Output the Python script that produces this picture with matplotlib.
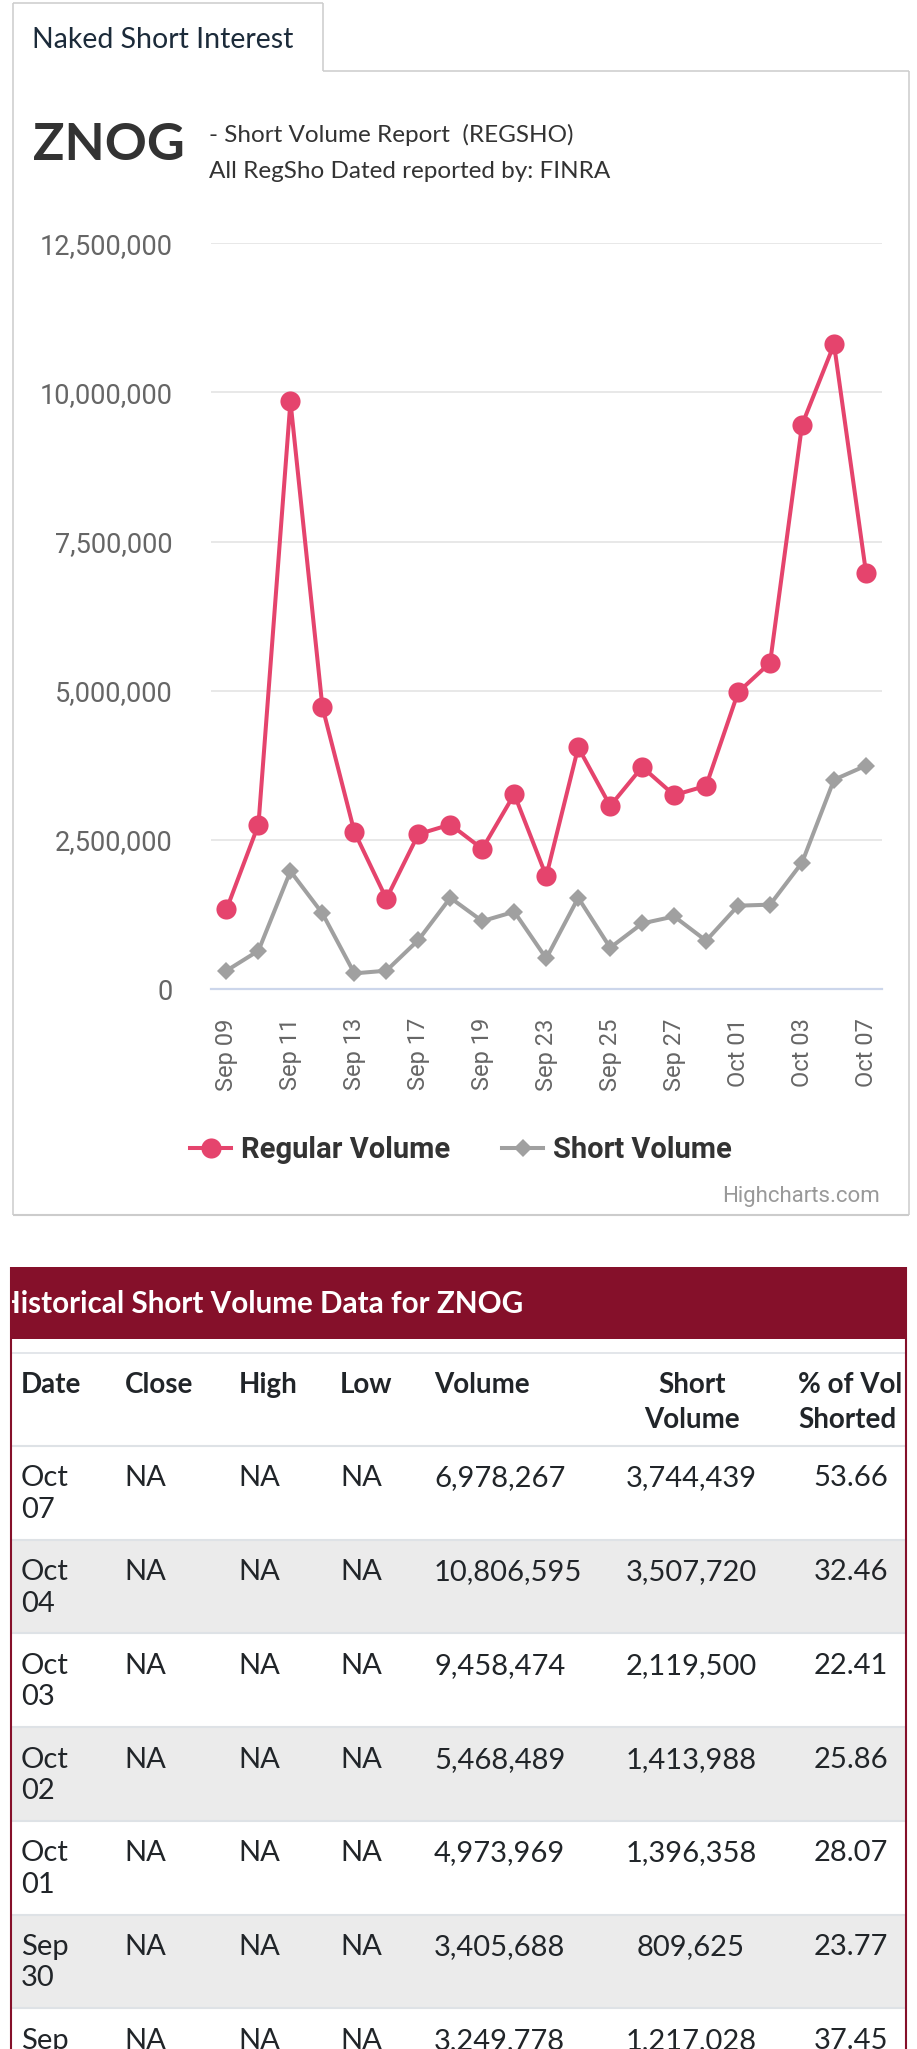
import matplotlib
matplotlib.use('Agg')
import matplotlib.pyplot as plt
from matplotlib.patches import Rectangle
from matplotlib.lines import Line2D
from matplotlib.ticker import FuncFormatter
from matplotlib.transforms import Bbox, TransformedBbox

# размер картинки в пикселях
W, H = 917, 2049

# --- данные графика ---
dates = ['Sep 09', 'Sep 10', 'Sep 11', 'Sep 12', 'Sep 13', 'Sep 16', 'Sep 17',
         'Sep 18', 'Sep 19', 'Sep 20', 'Sep 23', 'Sep 24', 'Sep 25', 'Sep 26',
         'Sep 27', 'Sep 30', 'Oct 01', 'Oct 02', 'Oct 03', 'Oct 04', 'Oct 07']
regular_volume = [1334000, 2757000, 9850000, 4727000, 2634000, 1512000, 2595000,
                  2757000, 2349000, 3265000, 1892000, 4051000, 3069000, 3722000,
                  3249778, 3405688, 4973969, 5468489, 9458474, 10806595, 6978267]
short_volume = [307000, 642000, 1975000, 1267000, 262000, 307000, 820000,
                1529000, 1138000, 1295000, 513000, 1529000, 692000, 1099000,
                1217028, 809625, 1396358, 1413988, 2119500, 3507720, 3744439]
y_ticks = [0, 2500000, 5000000, 7500000, 10000000, 12500000]

# --- данные таблицы ---
tbl_dates = ['Oct 07', 'Oct 04', 'Oct 03', 'Oct 02', 'Oct 01', 'Sep 30', 'Sep 27']
tbl_close = ['NA'] * 7
tbl_high = ['NA'] * 7
tbl_low = ['NA'] * 7
tbl_volume = [6978267, 10806595, 9458474, 5468489, 4973969, 3405688, 3249778]
tbl_short = [3744439, 3507720, 2119500, 1413988, 1396358, 809625, 1217028]
tbl_pct = [53.66, 32.46, 22.41, 25.86, 28.07, 23.77, 37.45]

RED = '#e5446d'
GREY = '#a0a0a0'
BORDER = '#cccccc'
MAROON = '#85102a'


def fx(x):
    return x / W


def fy(y):
    return 1 - y / H


fig = plt.figure(figsize=(W / 100, H / 100), dpi=100)
fig.patch.set_facecolor('white')


def hline(x0, x1, y, color, lw):
    fig.add_artist(Line2D([fx(x0), fx(x1)], [fy(y), fy(y)], transform=fig.transFigure,
                          color=color, lw=lw, solid_capstyle='butt'))


def vline(x, y0, y1, color, lw):
    fig.add_artist(Line2D([fx(x), fx(x)], [fy(y0), fy(y1)], transform=fig.transFigure,
                          color=color, lw=lw, solid_capstyle='butt'))


def txt(x, y, s, **kw):
    return fig.text(fx(x), fy(y), s, **kw)


# --- рамка и вкладка ---
hline(13, 323, 3, BORDER, 1.1)
vline(13, 3, 1215, BORDER, 1.1)
vline(323, 3, 71, BORDER, 1.1)
hline(323, 909, 71, BORDER, 1.1)
vline(909, 71, 1215, BORDER, 1.1)
hline(13, 909, 1215, BORDER, 1.5)

txt(32, 48, 'Naked Short Interest', fontsize=20.5, family='Lato', color='#1c2b3a', va='baseline')
txt(33, 160, 'ZNOG', fontsize=37.5, family='Lato', weight='bold', color='#333333', va='baseline')
txt(209, 142.5, '- Short Volume Report  (REGSHO)', fontsize=17.5, family='Lato', color='#333333', va='baseline')
txt(209, 177.5, 'All RegSho Dated reported by: FINRA', fontsize=17.5, family='Lato', color='#333333', va='baseline')

# --- сам график ---
ax_l, ax_r, ax_t, ax_b = 210.5, 882, 243.3, 989
ax = fig.add_axes([fx(ax_l), fy(ax_b), fx(ax_r - ax_l), (ax_b - ax_t) / H])
x = list(range(len(dates)))
l1, = ax.plot(x, regular_volume, color=RED, lw=2.9, marker='o', markersize=14.5,
              markeredgewidth=0, label='Regular Volume', zorder=3)
l2, = ax.plot(x, short_volume, color=GREY, lw=2.9, marker='D', markersize=9.5,
              markeredgewidth=0, label='Short Volume', zorder=2)
ax.set_xlim(-0.5, len(dates) - 0.5)
ax.set_ylim(0, 12500000)
ax.set_yticks(y_ticks)
ax.yaxis.set_major_formatter(FuncFormatter(lambda v, p: f'{int(v):,}'))
ax.set_xticks(x[::2])
ax.set_xticklabels(dates[::2], rotation=90)
for s in ['left', 'right', 'top']:
    ax.spines[s].set_visible(False)
ax.spines['bottom'].set_color('#ccd6eb')
ax.spines['bottom'].set_linewidth(1.6)
ax.grid(axis='y', color='#e6e6e6', lw=1.3)
ax.set_axisbelow(True)
ax.tick_params(axis='y', length=0, pad=27, labelsize=19.5, labelcolor='#666666')
ax.tick_params(axis='x', length=0, pad=21, labelsize=17, labelcolor='#666666')
for lab in ax.get_yticklabels() + ax.get_xticklabels():
    lab.set_family('Roboto')

leg = ax.legend(handles=[l1, l2], loc='center',
                bbox_to_anchor=((461 - ax_l) / (ax_r - ax_l), (ax_b - 1150) / (ax_b - ax_t)),
                ncol=2, frameon=False, handlelength=1.4, handletextpad=0.34, columnspacing=1.78,
                prop={'family': 'Roboto', 'weight': 'bold', 'size': 21}, borderpad=0)
for t in leg.get_texts():
    t.set_color('#333333')

txt(880, 1202, 'Highcharts.com', fontsize=16, family='Roboto', color='#999999', ha='right', va='baseline')

# --- таблица ---
t_l, t_r = 10.5, 906
fig.add_artist(Rectangle((fx(t_l), fy(1339)), fx(t_r - t_l), (1339 - 1267) / H,
                         transform=fig.transFigure, facecolor=MAROON, edgecolor='none'))
clip = TransformedBbox(Bbox([[fx(t_l + 1), 0], [fx(t_r - 2), 1]]), fig.transFigure)
title = txt(-2, 1313, 'Historical Short Volume Data for ZNOG', fontsize=21.3, family='Lato',
            weight='bold', color='white', va='baseline')
title.set_clip_box(clip)
title.set_clip_on(True)

hline(t_l, t_r, 1353, '#dee2e6', 1.2)

head_kw = dict(fontsize=20, family='Lato', weight='bold', color='#212529', va='baseline')
txt(21, 1393, 'Date', **head_kw)
txt(124.5, 1393, 'Close', **head_kw)
txt(238.5, 1393, 'High', **head_kw)
txt(340, 1393, 'Low', **head_kw)
txt(434, 1393, 'Volume', **head_kw)
txt(692, 1393, 'Short', ha='center', **head_kw)
txt(692, 1428, 'Volume', ha='center', **head_kw)
for yy, s in [(1393, '% of Vol'), (1428, 'Shorted')]:
    t = txt(798, yy, s, **head_kw)
    t.set_clip_box(clip)
    t.set_clip_on(True)

row_top = 1446
row_h = 93.7
cell_kw = dict(fontsize=21, family='Lato', color='#212529', va='baseline')
for i in range(len(tbl_dates)):
    top = row_top + i * row_h
    if i % 2 == 1:
        fig.add_artist(Rectangle((fx(t_l), fy(top + row_h)), fx(t_r - t_l), row_h / H,
                                 transform=fig.transFigure, facecolor='#ebebeb', edgecolor='none'))
    hline(t_l, t_r, top, '#dee2e6', 1.5)
    mon, day = tbl_dates[i].split()
    txt(21, top + 40.5, mon, **cell_kw)
    txt(21, top + 72, day, **cell_kw)
    txt(124.5, top + 40.5, tbl_close[i], **cell_kw)
    txt(238.5, top + 40.5, tbl_high[i], **cell_kw)
    txt(340, top + 40.5, tbl_low[i], **cell_kw)
    txt(434, top + 40.5, f'{tbl_volume[i]:,}', **cell_kw)
    txt(691, top + 40.5, f'{tbl_short[i]:,}', ha='center', **cell_kw)
    txt(851, top + 40.5, f'{tbl_pct[i]:.2f}', ha='center', **cell_kw)

vline(t_l, 1267, H, MAROON, 1.5)
vline(t_r, 1267, H, MAROON, 1.5)

fig.savefig('out.png', dpi=100)
